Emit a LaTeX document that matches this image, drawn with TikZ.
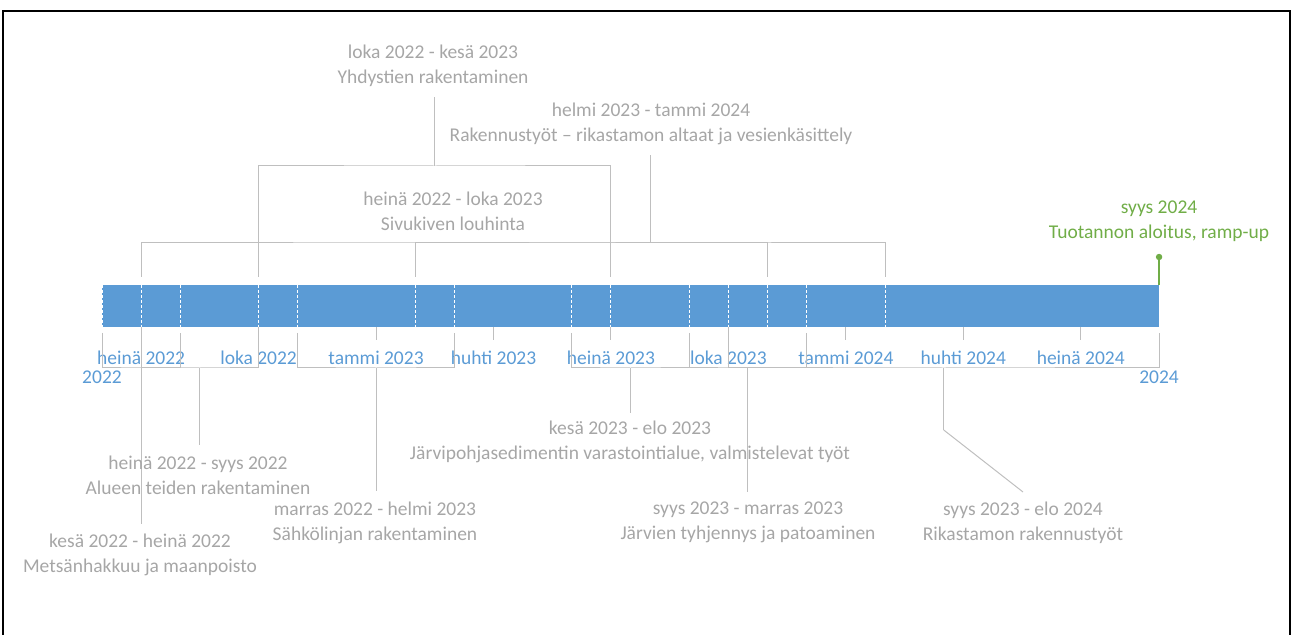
\documentclass[tikz,border=0pt]{standalone}
\usepackage{fontspec}
\setmainfont{Carlito}
\definecolor{barblue}{HTML}{5B9BD5}
\definecolor{linegray}{HTML}{BFBFBF}
\definecolor{textgray}{HTML}{A6A6A6}
\definecolor{msgreen}{HTML}{70AD47}
\tikzset{
event text/.style = {
             text=textgray,
             align=center,
             inner sep=0pt,
             font=\fontsize{9.75}{12.5}\selectfont
   },
axis text/.style = {
     text=barblue,
     inner sep=0pt,
     font=\fontsize{9.75}{12.5}\selectfont
     },
bracket/.style = {
    draw=linegray, line width=0.5pt
  },
tick mark/.style = {
    draw=linegray, line width=0.5pt
  },
bar dash/.style = {
    draw=white, line width=0.5pt,
    dash pattern=on 1.5pt off 1pt
  }
}
% month number (0 = kesä 2022) to x
\def\mx#1{102+39.15*#1}

\begin{document}
\begin{tikzpicture}[x=0.5pt, y=-0.5pt]
\useasboundingbox (0,0) rectangle (1294,635);
\draw[line width=1pt] (3,640) -- (3,11) -- (1290,11) -- (1290,640);

\fill[barblue] ({\mx{0}},285) rectangle ({\mx{27}},327);
\foreach \m in {0,1,2,4,5,8,9,12,13,15,16,17,18,20,27}
  \draw[bar dash] ({\mx{\m}},285) -- ({\mx{\m}},327);

\foreach \m/\t in {1/heinä 2022, 4/loka 2022, 7/tammi 2023, 10/huhti 2023,
  13/heinä 2023, 16/loka 2023, 19/tammi 2024, 22/huhti 2024, 25/heinä 2024} {
  \draw[tick mark] ({\mx{\m}},327) -- ({\mx{\m}},340);
  \node[axis text] (ax\m) at ({\mx{\m}},358) {\t};
}
\node[axis text] (ax-start) at ({\mx{0}},377) {2022};
\node[axis text] (ax-end) at ({\mx{27}},377) {2024};

% above the bar
\foreach \n/\ma/\mb/\lev/\tip in {A/4/13/166/97, B/1/17/243/243, C/8/20/243/155} {
  \coordinate (\n-l) at ({\mx{\ma}},277);
  \coordinate (\n-r) at ({\mx{\mb}},277);
  \coordinate (\n-m) at ({(\mx{\ma}+\mx{\mb})/2},\lev);
  \coordinate (\n-s) at ({(\mx{\ma}+\mx{\mb})/2},\tip);
  \draw[bracket] (\n-l) |- (\n-m) -| (\n-r);
  \draw[bracket] (\n-m) -- (\n-s);
}
\node[event text] (A-txt) at (433,65.5) {loka 2022 - kesä 2023\\Yhdystien rakentaminen};
\node[event text] (C-txt) at (651,123.5) {helmi 2023 - tammi 2024\\Rakennustyöt – rikastamon altaat ja vesienkäsittely};
\node[event text] (B-txt) at (453,211.5) {heinä 2022 - loka 2023\\Sivukiven louhinta};

% below the bar
\foreach \n/\ma/\mb/\tip in {1/0/2/524, 2/1/4/445, 3/5/9/491, 4/12/15/413, 5/15/18/492, 6/16/27/430} {
  \coordinate (d\n-l) at ({\mx{\ma}},333);
  \coordinate (d\n-r) at ({\mx{\mb}},333);
  \coordinate (d\n-m) at ({(\mx{\ma}+\mx{\mb})/2},368);
  \coordinate (d\n-s) at ({(\mx{\ma}+\mx{\mb})/2},\tip);
  \draw[bracket] (d\n-l) |- (d\n-m) -| (d\n-r);
  \draw[bracket] (d\n-m) -- (d\n-s);
}
\coordinate (d6-e) at (1023,492);
\draw[bracket] (d6-s) -- (d6-e);
\node[event text] (d1-txt) at (140,554.5) {kesä 2022 - heinä 2022\\Metsänhakkuu ja maanpoisto};
\node[event text] (d2-txt) at (198,475.5) {heinä 2022 - syys 2022\\Alueen teiden rakentaminen};
\node[event text] (d3-txt) at (375,522.5) {marras 2022 - helmi 2023\\Sähkölinjan rakentaminen};
\node[event text] (d4-txt) at (630,441.5) {kesä 2023 - elo 2023\\Järvipohjasedimentin varastointialue, valmistelevat työt};
\node[event text] (d5-txt) at (748,522.5) {syys 2023 - marras 2023\\Järvien tyhjennys ja patoaminen};
\node[event text] (d6-txt) at (1023,522.5) {syys 2023 - elo 2024\\Rikastamon rakennustyöt};

% milestone
\coordinate (ms-foot) at ({\mx{27}},285);
\coordinate (ms-dot) at ({\mx{27}},257);
\draw[msgreen, line width=0.75pt] (ms-foot) -- (ms-dot);
\fill[msgreen] (ms-dot) circle (1.6pt);
\node[event text, text=msgreen] (ms-txt) at ({\mx{27}},221) {syys 2024\\Tuotannon aloitus, ramp-up};
\end{tikzpicture}
\end{document}
